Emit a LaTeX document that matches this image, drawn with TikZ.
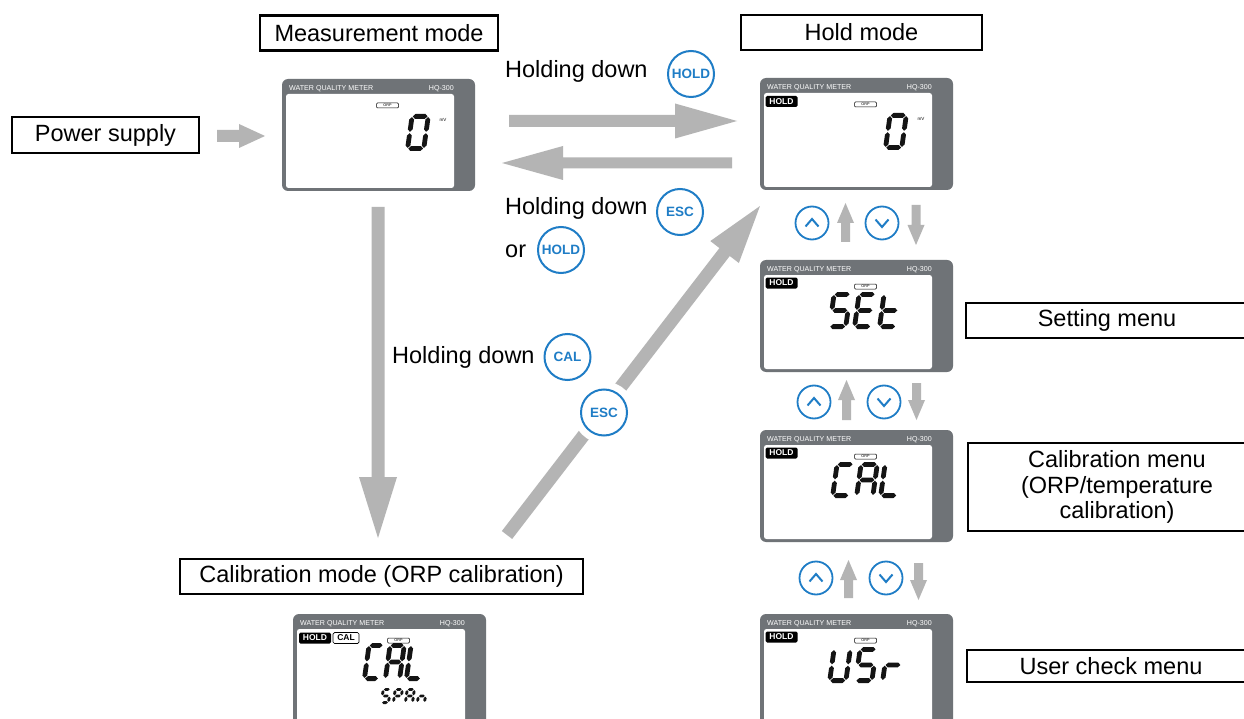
\documentclass[tikz,border=0pt]{standalone}
\usepackage{fontspec}
\setmainfont{Liberation Sans}
\usetikzlibrary{calc}

\definecolor{panelgray}{HTML}{6F7377}
\definecolor{flowgray}{HTML}{B4B4B4}
\definecolor{keyblue}{HTML}{1F7DC6}
\colorlet{lcdink}{black!92}

\newcommand\labelfont{\fontsize{23.5}{25.5}\selectfont}

% broad flat arrow between two named points: shaft width, head length, head width
\newcommand\fatarrow[5]{%
  \fill[flowgray] let \p1=(#1), \p2=(#2),
      \n1={atan2(\y2-\y1,\x2-\x1)}, \n2={veclen(\x2-\x1,\y2-\y1)} in
    [shift={(\p1)}, rotate=\n1]
    (0,{#3/2}) -- ({\n2-#4},{#3/2}) -- ({\n2-#4},{#5/2}) -- (\n2,0)
    -- ({\n2-#4},{-#5/2}) -- ({\n2-#4},{-#3/2}) -- (0,{-#3/2}) -- cycle;}

% seven-segment LCD glyphs
\newcommand\lcdhseg[3]{%
  \fill[lcdink] ({#1+0.7},#3) -- ({#1+0.7+\lcdq},{#3-\lcdq}) -- ({#2-0.7-\lcdq},{#3-\lcdq})
    -- ({#2-0.7},#3) -- ({#2-0.7-\lcdq},{#3+\lcdq}) -- ({#1+0.7+\lcdq},{#3+\lcdq}) -- cycle;}
\newcommand\lcdvseg[3]{%
  \fill[lcdink] (#1,{#2+0.7}) -- ({#1+\lcdq},{#2+0.7+\lcdq}) -- ({#1+\lcdq},{#3-0.7-\lcdq})
    -- (#1,{#3-0.7}) -- ({#1-\lcdq},{#3-0.7-\lcdq}) -- ({#1-\lcdq},{#2+0.7+\lcdq}) -- cycle;}
\newcommand\lcdsegment[1]{%
  \if a#1\lcdhseg{\lcdxl}{\lcdxr}{\lcdyt}\fi
  \if g#1\lcdhseg{\lcdxl}{\lcdxr}{\lcdym}\fi
  \if d#1\lcdhseg{\lcdxl}{\lcdxr}{\lcdyb}\fi
  \if f#1\lcdvseg{\lcdxl}{\lcdyt}{\lcdym}\fi
  \if b#1\lcdvseg{\lcdxr}{\lcdyt}{\lcdym}\fi
  \if e#1\lcdvseg{\lcdxl}{\lcdym}{\lcdyb}\fi
  \if c#1\lcdvseg{\lcdxr}{\lcdym}{\lcdyb}\fi}
% #1 x, #2 y (top left), #3 width, #4 height, #5 stroke, #6 segment list macro
\newcommand\lcdglyph[6]{%
  \begin{scope}[shift={(#1,#2)}, xslant=0.14]
    \pgfmathsetmacro\lcdq{#5/2}
    \pgfmathsetmacro\lcdxl{#5/2}
    \pgfmathsetmacro\lcdxr{#3-#5/2}
    \pgfmathsetmacro\lcdyt{#5/2}
    \pgfmathsetmacro\lcdym{#4/2}
    \pgfmathsetmacro\lcdyb{#4-#5/2}
    \foreach \lcdletter in #6 {\lcdsegment{\lcdletter}}
  \end{scope}}

% meter face: #1 name, #2 x, #3 y of top left corner, #4 display contents
\newcommand\lcdpanel[4]{%
  \node[panel] (#1) at ({#2+96.5},{#3+56}) {};
  \begin{scope}[shift={(#2,#3)}]
    \fill[white, rounded corners=2.5pt] (4,15) rectangle (172,109);
    \node[hdr, anchor=west] (#1-brand) at (7,10) {WATER QUALITY METER};
    \node[hdr, anchor=east] (#1-model) at (172,10) {HQ-300};
    \node[orp] (#1-orp) at (105.5,26.5) {ORP};
    #4
  \end{scope}}

\newcommand\segzero{a,b,c,d,e,f}
\newcommand\segS{a,f,g,c,d}
\newcommand\segE{a,f,g,e,d}
\newcommand\segt{f,g,e,d}
\newcommand\segC{a,f,e,d}
\newcommand\segA{a,b,c,e,f,g}
\newcommand\segL{f,e,d}
\newcommand\segU{f,b,e,c,d}
\newcommand\segr{e,g}
\newcommand\segP{a,b,f,g,e}
\newcommand\segn{e,g,c}

\begin{document}
\begin{tikzpicture}[x=1pt, y=-1pt,
  modebox/.style={draw=black, line width=2.6pt, fill=white, inner sep=0pt, align=center, font=\labelfont},
  caption/.style={font=\labelfont, inner sep=0pt, anchor=base west},
  keycirc/.style={circle, draw=keyblue, line width=2pt, fill=white, text=keyblue,
    font=\bfseries\fontsize{13.5}{14}\selectfont, minimum size=46pt, inner sep=0pt},
  navkey/.style={circle, draw=keyblue, line width=1.8pt, fill=white, minimum size=33pt, inner sep=0pt},
  chev/.style={draw=keyblue, line width=2pt, line join=miter},
  panel/.style={rectangle, rounded corners=6pt, fill=panelgray, minimum width=193pt,
    minimum height=112pt, inner sep=0pt},
  hdr/.style={text=white, font=\fontsize{7.1}{7.5}\selectfont, inner sep=0pt},
  orp/.style={draw=black, line width=0.5pt, rounded corners=1pt, minimum width=22pt,
    minimum height=5pt, inner sep=0pt, font=\fontsize{3.8}{4}\selectfont},
  badge/.style={fill=black, text=white, rounded corners=1.5pt, font=\bfseries\fontsize{8.5}{9}\selectfont,
    minimum width=32pt, minimum height=11pt, inner sep=0pt},
  outbadge/.style={badge, fill=white, draw=black, line width=0.7pt, text=black, minimum width=26pt},
  unitlbl/.style={font=\fontsize{4.5}{5}\selectfont, inner sep=0pt}]

\useasboundingbox (0,0) rectangle (1244,719);
\clip (0,0) rectangle (1244,719);
\fill[white] (0,0) rectangle (1244,719);

% ---------- titles ----------
\node[modebox, minimum width=238pt, minimum height=35pt] (meas) at (379,33) {Measurement mode};
\node[modebox, minimum width=241pt, minimum height=35pt] (holdt) at (861.5,32.5) {Hold mode};
\node[modebox, minimum width=187pt, minimum height=36pt] (power) at (105.5,135) {Power supply};
\node[modebox, minimum width=282pt, minimum height=35pt] (setm) at (1107,320.5) {Setting menu};
\node[modebox, minimum width=298pt, minimum height=88pt] (calm) at (1117,487)
  {Calibration menu\\(ORP/temperature\\calibration)};
\node[modebox, minimum width=288pt, minimum height=32pt] (usrm) at (1111,666) {User check menu};
\node[modebox, minimum width=403pt, minimum height=35pt] (calmode) at (381.5,576.5)
  {Calibration mode (ORP calibration)};

% ---------- meter faces ----------
\lcdpanel{m1}{282}{79}{%
  \lcdglyph{128}{35}{21}{37}{4.8}{\segzero}
  \node[unitlbl] (m1-mv) at (161,41) {mV};}
\lcdpanel{m2}{760}{78}{%
  \node[badge] (m2-hold) at (21.5,23.5) {HOLD};
  \lcdglyph{128}{35}{21}{37}{4.8}{\segzero}
  \node[unitlbl] (m2-mv) at (161,41) {mV};}
\lcdpanel{m3}{760}{260}{%
  \node[badge] (m3-hold) at (21.5,23) {HOLD};
  \lcdglyph{72}{32}{21}{37}{4.8}{\segS}
  \lcdglyph{97}{32}{21}{37}{4.8}{\segE}
  \lcdglyph{122}{32}{21}{37}{4.8}{\segt}}
\lcdpanel{m4}{760}{430}{%
  \node[badge] (m4-hold) at (21.5,23) {HOLD};
  \lcdglyph{75}{32}{21}{36}{4.8}{\segC}
  \lcdglyph{99}{32}{21}{36}{4.8}{\segA}
  \lcdglyph{123}{32}{21}{36}{4.8}{\segL}}
\lcdpanel{m5}{760}{614}{%
  \node[badge] (m5-hold) at (21.5,23) {HOLD};
  \lcdglyph{72}{33}{21}{36}{4.8}{\segU}
  \lcdglyph{98}{33}{21}{36}{4.8}{\segS}
  \lcdglyph{125}{33}{21}{36}{4.8}{\segr}}
\lcdpanel{m6}{293}{614}{%
  \node[badge] (m6-hold) at (22,24) {HOLD};
  \node[outbadge] (m6-cal) at (53,24) {CAL};
  \lcdglyph{74}{29}{19}{38}{4.8}{\segC}
  \lcdglyph{95}{29}{19}{38}{4.8}{\segA}
  \lcdglyph{116}{29}{19}{38}{4.8}{\segL}
  \lcdglyph{89}{74}{10}{16}{2.9}{\segS}
  \lcdglyph{101}{74}{10}{16}{2.9}{\segP}
  \lcdglyph{113}{74}{10}{16}{2.9}{\segA}
  \lcdglyph{125}{74}{10}{16}{2.9}{\segn}}

% ---------- transition arrows ----------
\coordinate (psA) at (217,136);  \coordinate (psB) at (265,136);
\coordinate (toholdA) at (509,121); \coordinate (toholdB) at (737,121);
\coordinate (backA) at (732,163); \coordinate (backB) at (502,163);
\coordinate (tocalA) at (378,207); \coordinate (tocalB) at (378,538);
\coordinate (escA) at (507,535); \coordinate (escB) at (760,206);
\fatarrow{psA}{psB}{12}{26}{24}
\fatarrow{toholdA}{toholdB}{12}{62}{35}
\fatarrow{backA}{backB}{11}{61}{34}
\fatarrow{tocalA}{tocalB}{13}{61}{38}
\fatarrow{escA}{escB}{13}{58}{36}

% menu scrolling arrows
\coordinate (u1A) at (845.5,242); \coordinate (u1B) at (845.5,203);
\coordinate (d1A) at (916,205);   \coordinate (d1B) at (916,245);
\coordinate (u2A) at (846.5,420); \coordinate (u2B) at (846.5,380);
\coordinate (d2A) at (916.5,383); \coordinate (d2B) at (916.5,420);
\coordinate (u3A) at (848.5,598); \coordinate (u3B) at (848.5,560);
\coordinate (d3A) at (918.5,563); \coordinate (d3B) at (918.5,600);
\foreach \a in {u1,d1,u2,d2,u3,d3} {\fatarrow{\a A}{\a B}{9}{20}{17}}

% ---------- key captions ----------
\node[caption] (cap1) at (505,78) {Holding down};
\node[keycirc] (k1) at (691,74) {HOLD};
\node[caption] (cap2) at (505,215) {Holding down};
\node[keycirc] (k2) at (680,212) {ESC};
\node[caption] (cap3) at (505,258) {or};
\node[keycirc] (k3) at (561,250) {HOLD};
\node[caption] (cap4) at (392,363) {Holding down};
\node[keycirc] (k4) at (567.5,357) {CAL};
\node[keycirc, preaction={draw=white, line width=16pt}] (k5) at (604,412.5) {ESC};

% up / down keys
\foreach \nm/\px/\py in {ua/812/223, ub/814/402, uc/816/578} {
  \node[navkey] (\nm) at (\px,\py) {};
  \draw[chev] ($(\nm)+(-6.5,3.5)$) -- ($(\nm)+(0,-4)$) -- ($(\nm)+(6.5,3.5)$);
}
\foreach \nm/\px/\py in {da/882/223, db/884/402, dc/886/578} {
  \node[navkey] (\nm) at (\px,\py) {};
  \draw[chev] ($(\nm)+(-6.5,-3.5)$) -- ($(\nm)+(0,4)$) -- ($(\nm)+(6.5,-3.5)$);
}
\end{tikzpicture}
\end{document}
